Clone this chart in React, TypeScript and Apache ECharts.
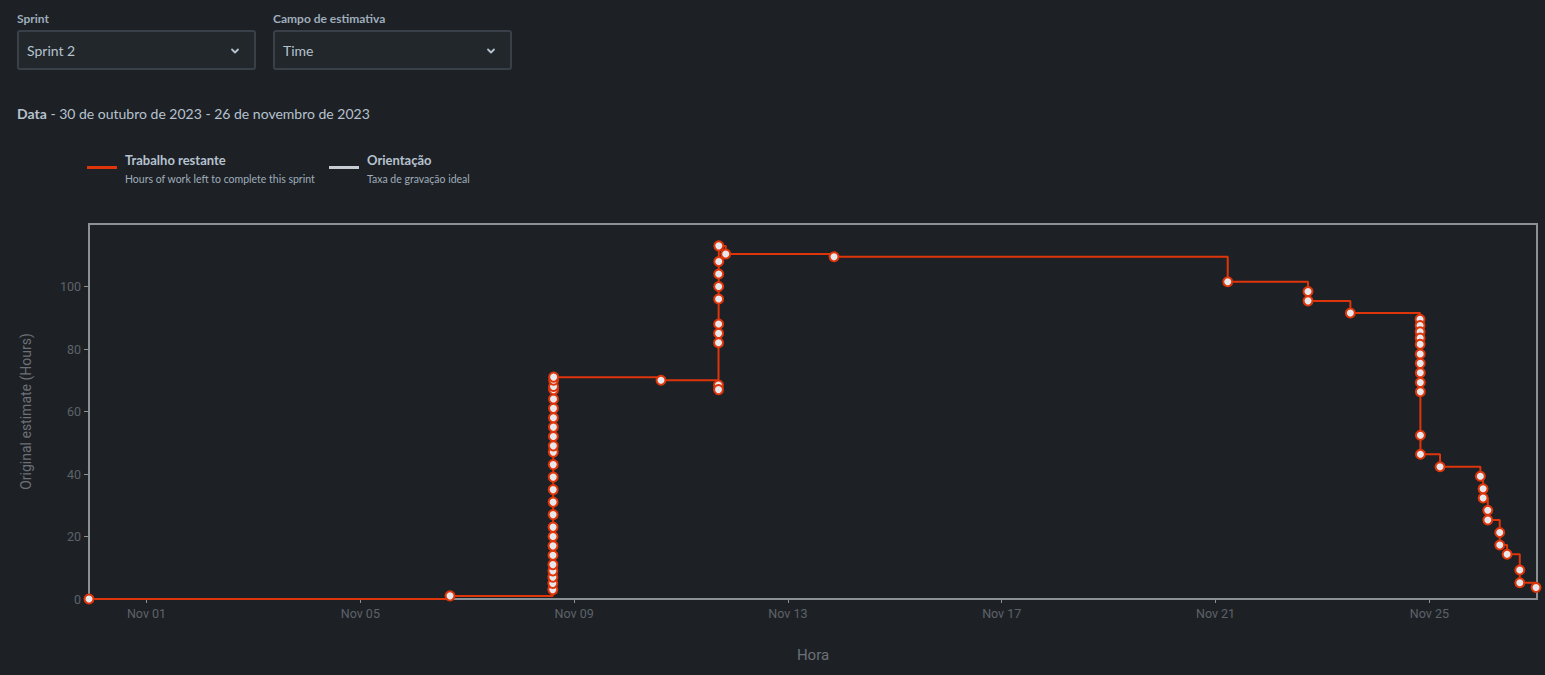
import React, { useEffect, useRef } from "react";
import * as echarts from "echarts";

// ---------- data ----------
const axisStart = "2023-10-30 22:10";
const axisEnd = "2023-11-27 00:20";

const times = [
  "2023-10-30 22:10",
  "2023-11-06 16:16",
  "2023-11-08 14:24", "2023-11-08 14:25", "2023-11-08 14:26", "2023-11-08 14:27", "2023-11-08 14:28",
  "2023-11-08 14:29", "2023-11-08 14:30", "2023-11-08 14:31", "2023-11-08 14:32", "2023-11-08 14:33",
  "2023-11-08 14:34", "2023-11-08 14:35", "2023-11-08 14:36", "2023-11-08 14:37", "2023-11-08 14:38",
  "2023-11-08 14:39", "2023-11-08 14:40", "2023-11-08 14:41", "2023-11-08 14:42", "2023-11-08 14:43",
  "2023-11-08 14:44", "2023-11-08 14:45", "2023-11-08 14:46", "2023-11-08 14:47", "2023-11-08 14:48",
  "2023-11-10 15:00",
  "2023-11-11 16:48", "2023-11-11 16:49",
  "2023-11-11 16:50", "2023-11-11 16:51", "2023-11-11 16:52", "2023-11-11 16:53",
  "2023-11-11 16:54", "2023-11-11 16:55", "2023-11-11 16:56", "2023-11-11 16:57",
  "2023-11-11 20:04",
  "2023-11-13 20:41",
  "2023-11-21 05:28",
  "2023-11-22 17:31", "2023-11-22 17:32",
  "2023-11-23 12:32",
  "2023-11-24 19:49", "2023-11-24 19:50", "2023-11-24 19:51", "2023-11-24 19:52",
  "2023-11-24 19:53", "2023-11-24 19:54", "2023-11-24 19:55", "2023-11-24 19:56",
  "2023-11-24 19:57", "2023-11-24 19:58", "2023-11-24 19:59", "2023-11-24 20:00",
  "2023-11-25 04:48",
  "2023-11-25 22:54",
  "2023-11-26 00:07", "2023-11-26 00:08",
  "2023-11-26 02:14", "2023-11-26 02:15",
  "2023-11-26 07:36", "2023-11-26 07:37",
  "2023-11-26 10:54",
  "2023-11-26 16:36", "2023-11-26 16:37",
  "2023-11-26 23:54",
];

const remaining = [
  0,
  1,
  3, 5, 7, 9, 11,
  14, 17, 20, 23, 27,
  31, 35, 39, 43, 47,
  49, 52, 55, 58, 61,
  64, 67, 68, 70, 71,
  70,
  68.5, 67,
  82, 85, 88, 96,
  100, 104, 108, 113,
  110.4,
  109.5,
  101.5,
  98.4, 95.4,
  91.5,
  89.5, 87.5, 85.5, 83.5,
  81.5, 78.4, 75.4, 72.4,
  69.3, 66.3, 52.4, 46.3,
  42.3,
  39.3,
  35.3, 32.3,
  28.4, 25.3,
  21.3, 17.3,
  14.3,
  9.3, 5.2,
  3.7,
];

const guideline: [string, number][] = [];

const seriesNames = ["Trabalho restante", "Orientação"];
const seriesDescriptions = ["Hours of work left to complete this sprint", "Taxa de gravação ideal"];

const yMin = 0;
const yMax = 120;
const yInterval = 20;

// ---------- style ----------
const BG = "#1d2125";
const RED = "#de350b";
const GUIDE = "#c7ccd3";
const TEXT = "#b6c2cf";
const SUBTLE = "#9fadbc";
const AXIS = "#8c9196";
const TICK_LABEL = "#5d6269";
const AXIS_NAME = "#6c7077";
const UI_FONT = "Lato, 'Noto Sans', sans-serif";
const AXIS_FONT = "Roboto, sans-serif";

function toTs(s: string): number {
  const [d, t] = s.split(" ");
  const [y, m, day] = d.split("-").map(Number);
  const [hh, mm] = t.split(":").map(Number);
  return new Date(y, m - 1, day, hh, mm).getTime();
}

function Chevron() {
  return (
    <svg width="10" height="10" viewBox="0 0 10 10" style={{ display: "block" }}>
      <polyline points="2,3.5 5,6.5 8,3.5" fill="none" stroke={TEXT} strokeWidth="1.8" strokeLinecap="round" strokeLinejoin="round" />
    </svg>
  );
}

function Select({ left, label, value }: { left: number; label: string; value: string }) {
  return (
    <>
      <div
        style={{
          position: "absolute",
          left,
          top: 11,
          fontSize: 12,
          fontWeight: 700,
          color: SUBTLE,
          fontFamily: UI_FONT,
          lineHeight: "16px",
        }}
      >
        {label}
      </div>
      <div
        style={{
          position: "absolute",
          left,
          top: 30,
          width: 239,
          height: 40,
          boxSizing: "border-box",
          border: "2px solid #3a4048",
          borderRadius: 3,
          background: "#22272b",
          display: "flex",
          alignItems: "center",
          paddingLeft: 8,
          fontFamily: UI_FONT,
          fontSize: 14,
          color: TEXT,
        }}
      >
        {value}
        <div style={{ position: "absolute", right: 14, top: 14 }}>
          <Chevron />
        </div>
      </div>
    </>
  );
}

export default function App() {
  const ref = useRef<HTMLDivElement>(null);

  useEffect(() => {
    if (!ref.current) return;
    const chart = echarts.init(ref.current, null, { renderer: "svg" });
    const data = times.map((t, i) => [toTs(t), remaining[i]]);

    chart.setOption({
      animation: false,
      backgroundColor: "transparent",
      grid: {
        left: 89,
        right: 8,
        top: 224,
        bottom: 76,
        show: true,
        borderColor: AXIS,
        borderWidth: 2,
        backgroundColor: "transparent",
      },
      xAxis: {
        type: "time",
        min: toTs(axisStart),
        max: toTs(axisEnd),
        name: "Hora",
        nameLocation: "middle",
        nameGap: 48,
        nameTextStyle: { color: AXIS_NAME, fontSize: 15, fontFamily: AXIS_FONT },
        axisLine: { show: true, lineStyle: { color: AXIS, width: 2 } },
        axisTick: { show: true, length: 4, lineStyle: { color: AXIS, width: 1 } },
        axisLabel: {
          formatter: "{MMM} {dd}",
          color: TICK_LABEL,
          fontSize: 12.5,
          fontFamily: AXIS_FONT,
          margin: 8,
        },
        splitLine: { show: false },
      },
      yAxis: {
        type: "value",
        min: yMin,
        max: yMax,
        interval: yInterval,
        name: "Original estimate (Hours)",
        nameLocation: "middle",
        nameGap: 56,
        nameTextStyle: { color: AXIS_NAME, fontSize: 14, fontFamily: AXIS_FONT },
        axisLine: { show: true, lineStyle: { color: AXIS, width: 2 } },
        axisTick: { show: true, length: 5, lineStyle: { color: AXIS, width: 1 } },
        axisLabel: {
          showMaxLabel: false,
          color: TICK_LABEL,
          fontSize: 12.5,
          fontFamily: AXIS_FONT,
          margin: 8,
        },
        splitLine: { show: false },
      },
      series: [
        {
          name: seriesNames[0],
          type: "line",
          step: "end",
          data,
          showAllSymbol: true,
          symbol: "circle",
          symbolSize: 9,
          lineStyle: { color: RED, width: 2 },
          itemStyle: { color: "#e6e8eb", borderColor: RED, borderWidth: 2 },
          emphasis: { disabled: true },
          z: 3,
        },
        {
          name: seriesNames[1],
          type: "line",
          data: guideline.map(([t, v]) => [toTs(t), v]),
          showSymbol: false,
          lineStyle: { color: GUIDE, width: 2 },
          z: 2,
        },
      ],
      graphic: [
        { type: "rect", shape: { x: 87, y: 166, width: 30, height: 3 }, style: { fill: RED } },
        {
          type: "text",
          x: 125,
          y: 160,
          style: { text: seriesNames[0], fill: TEXT, fontSize: 13, fontWeight: 700, fontFamily: UI_FONT, verticalAlign: "middle" },
        },
        {
          type: "text",
          x: 125,
          y: 179,
          style: { text: seriesDescriptions[0], fill: SUBTLE, fontSize: 10.5, fontFamily: UI_FONT, verticalAlign: "middle" },
        },
        { type: "rect", shape: { x: 329, y: 166, width: 30, height: 3 }, style: { fill: GUIDE } },
        {
          type: "text",
          x: 367,
          y: 160,
          style: { text: seriesNames[1], fill: TEXT, fontSize: 13, fontWeight: 700, fontFamily: UI_FONT, verticalAlign: "middle" },
        },
        {
          type: "text",
          x: 367,
          y: 179,
          style: { text: seriesDescriptions[1], fill: SUBTLE, fontSize: 10.5, fontFamily: UI_FONT, verticalAlign: "middle" },
        },
      ],
    });

    return () => chart.dispose();
  }, []);

  return (
    <div
      style={{
        position: "fixed",
        left: 0,
        top: 0,
        width: 1545,
        height: 675,
        background: BG,
        overflow: "hidden",
      }}
    >
      <div ref={ref} style={{ position: "absolute", left: 0, top: 0, width: 1545, height: 675 }} />
      <Select left={17} label="Sprint" value="Sprint 2" />
      <Select left={273} label="Campo de estimativa" value="Time" />
      <div
        style={{
          position: "absolute",
          left: 17,
          top: 105,
          fontFamily: UI_FONT,
          fontSize: 14,
          lineHeight: "18px",
          color: TEXT,
        }}
      >
        <b>Data</b> - 30 de outubro de 2023 - 26 de novembro de 2023
      </div>
    </div>
  );
}
